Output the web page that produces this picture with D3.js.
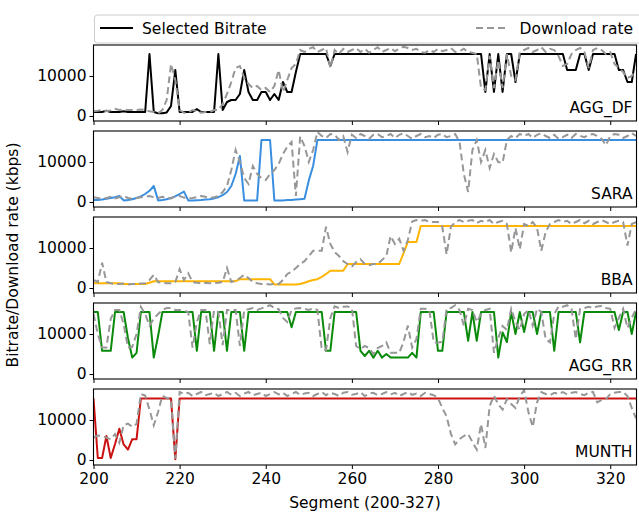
<!DOCTYPE html>
<html>
<head>
<meta charset="utf-8">
<script src="https://cdn.jsdelivr.net/npm/d3@7"></script>
<style>
  body { margin: 0; background: #fff; }
  text { font-family: 'DejaVu Sans', sans-serif; fill: #000; }
</style>
</head>
<body>
<svg id="chart"></svg>
<script>
// segment numbers start here, one value per segment (200..326)
const firstSegment = 200;
const xTicks = [200, 220, 240, 260, 280, 300, 320];
const yTicks = [0, 10000];
const panelNames = ["AGG_DF", "SARA", "BBA", "AGG_RR", "MUNTH"];
const panelColors = ["#000000", "#3a8ee0", "#ffb400", "#0a8a0a", "#cc1111"];

// selected bitrate (kbps)
const bitAggDf = [
  1000,1000,1000,1300,1000,1000,1000,1200,1000,1000,
  1000,1000,1000,15500,1000,700,700,900,2500,11500,
  1000,1000,1000,1000,1700,1000,1000,1000,1000,15500,
  1500,3500,4000,4000,5500,11500,6000,4000,4000,6000,
  6000,4000,5500,4000,8500,6000,6000,11000,15500,15500,
  15500,15500,15500,15500,15500,12500,15500,15500,15500,15500,
  15500,15500,15500,15500,15500,15500,15500,15500,15500,15500,
  15500,15500,15500,15500,15500,15500,15500,15500,15500,15500,
  15500,15500,15500,15500,15500,15500,15500,15500,15500,15500,
  15500,6000,15500,6000,15500,6000,15500,15500,8500,15500,
  15500,15500,15500,15500,15500,15500,15500,15500,15500,15500,
  11500,11500,11500,15500,15500,11500,15500,15500,15500,15500,
  15500,15500,11500,11500,8500,8500,15500
];
const bitSara = [
  500,500,600,800,1000,1200,1500,400,500,700,
  1000,1400,2000,2800,4000,400,500,700,1000,1400,
  2000,2600,400,400,450,500,600,700,900,1200,
  1700,2500,4000,7000,11500,400,400,400,400,15500,
  15500,15500,400,400,400,500,500,600,700,800,
  5400,9000,15500,15500,15500,15500,15500,15500,15500,15500,
  15500,15500,15500,15500,15500,15500,15500,15500,15500,15500,
  15500,15500,15500,15500,15500,15500,15500,15500,15500,15500,
  15500,15500,15500,15500,15500,15500,15500,15500,15500,15500,
  15500,15500,15500,15500,15500,15500,15500,15500,15500,15500,
  15500,15500,15500,15500,15500,15500,15500,15500,15500,15500,
  15500,15500,15500,15500,15500,15500,15500,15500,15500,15500,
  15500,15500,15500,15500,15500,15500,15500
];
const bitBba = [
  1200,1200,1200,1200,1200,1200,1200,1000,1000,1000,
  1000,1000,1000,1300,1700,1700,1700,1700,1700,1700,
  1700,1700,1700,1700,1700,1700,1700,1700,1700,1700,
  1700,1700,1700,1700,2200,2200,2200,2200,2200,2200,
  2200,2200,900,900,900,900,900,900,1000,1300,
  1700,2000,2200,2800,3500,4300,4300,4300,4300,6000,
  6000,6000,6000,6000,6000,6000,6000,6000,6000,6000,
  6000,6000,8700,11500,11500,11500,15500,15500,15500,15500,
  15500,15500,15500,15500,15500,15500,15500,15500,15500,15500,
  15500,15500,15500,15500,15500,15500,15500,15500,15500,15500,
  15500,15500,15500,15500,15500,15500,15500,15500,15500,15500,
  15500,15500,15500,15500,15500,15500,15500,15500,15500,15500,
  15500,15500,15500,15500,15500,15500,15500
];
const bitAggRr = [
  15500,15500,5800,5800,5800,15500,15500,15500,9000,4100,
  5300,15500,15500,15500,4100,9500,15500,15500,15500,15500,
  15500,15500,15500,15500,5800,15500,15500,15500,5800,15500,
  15500,5800,15500,15500,15500,5800,15500,15500,15500,15500,
  15500,15500,15500,15500,15500,15500,11700,15500,15500,15500,
  15500,15500,15500,15500,5800,5800,15500,15500,15500,15500,
  15500,15500,5800,4500,5800,4100,5800,4100,5000,4100,
  4100,4100,4100,4100,5300,4100,15500,15500,15500,15500,
  5800,5800,15500,15500,15500,15500,15500,8300,15500,8300,
  15500,15500,15500,15500,4100,10400,8000,15500,10000,15500,
  10500,15500,15500,10000,15500,15500,15500,5800,15500,15500,
  15500,15500,15500,7900,15500,15500,15500,15500,15500,15500,
  15500,15500,11000,15500,15500,10000,15500
];
const bitMunth = [
  15400,500,500,6000,500,4000,7800,3900,2600,5200,
  5200,15400,15400,15400,15400,15400,15400,15400,15400,200,
  15400,15400,15400,15400,15400,15400,15400,15400,15400,15400,
  15400,15400,15400,15400,15400,15400,15400,15400,15400,15400,
  15400,15400,15400,15400,15400,15400,15400,15400,15400,15400,
  15400,15400,15400,15400,15400,15400,15400,15400,15400,15400,
  15400,15400,15400,15400,15400,15400,15400,15400,15400,15400,
  15400,15400,15400,15400,15400,15400,15400,15400,15400,15400,
  15400,15400,15400,15400,15400,15400,15400,15400,15400,15400,
  15400,15400,15400,15400,15400,15400,15400,15400,15400,15400,
  15400,15400,15400,15400,15400,15400,15400,15400,15400,15400,
  15400,15400,15400,15400,15400,15400,15400,15400,15400,15400,
  15400,15400,15400,15400,15400,15400,15400
];

// download rate (kbps)
const dlAggDf = [
  1200,1300,1500,1200,1400,1800,1500,1600,1500,1500,
  1500,1600,1500,1200,1000,700,1500,4000,13000,9000,
  1500,800,900,1500,1200,800,1000,1000,1500,1500,
  3000,5500,8500,12000,12500,9500,8000,7000,7500,6500,
  7000,6000,7500,11500,6000,9000,12000,13000,16500,16000,
  16800,17200,16000,16500,17000,12000,16500,15500,16800,16000,
  16500,17000,16000,16800,15800,16500,17200,16000,16500,17000,
  16200,16800,17300,17000,16500,16800,16000,15800,16500,16000,
  16800,16200,16500,17000,16000,16200,16800,16000,15800,15500,
  7000,6500,15000,7000,14000,7000,15500,10000,9000,16000,
  16500,17000,16000,16500,17200,16000,16800,16500,15000,12500,
  13000,15500,16500,17000,16000,12000,16500,17000,16500,15500,
  16000,13000,12000,11000,9500,10000,11500
];
const dlSara = [
  1200,1000,800,1000,1300,900,1200,1500,1000,800,
  1000,1200,1300,1500,1200,1000,1300,1100,900,1400,
  1500,1100,900,1000,1200,1500,1300,1000,1200,1500,
  2500,4000,8000,13000,10000,6000,4500,9000,7000,6000,
  5500,7000,8000,9500,12000,13800,15000,1500,16400,14000,
  10000,13000,17500,16500,16000,17000,16800,15500,16500,12500,
  16800,16000,17000,16500,15800,16800,17000,16200,16500,17000,
  16000,16800,17200,16500,15800,16500,17000,16200,16500,16000,
  16800,17000,16200,16500,17000,15000,7000,2500,13000,15500,
  10000,13000,8500,12000,10000,9800,15500,16500,16000,17000,
  16500,17000,16000,16800,17200,16500,16000,16800,15800,16200,
  16800,16000,17000,16500,16200,16800,17000,16500,15800,14200,
  16500,17000,16800,16000,16500,17200,16500
];
const dlBba = [
  2000,1500,6300,1500,1200,1000,1000,1100,900,1000,
  1000,1100,1200,2000,3300,1500,1300,1200,1200,1500,
  4700,2000,3700,1500,1300,1200,1300,1200,1200,1300,
  1500,5000,1500,1800,2500,3300,2500,1500,1200,1000,
  1000,900,1000,1000,2000,3500,4100,5000,6000,6700,
  8000,9300,9300,9300,15300,11000,9000,8000,6700,6000,
  5400,6500,7200,6000,5700,6000,6000,7000,8000,13000,
  11000,12300,9300,12000,16600,17000,16800,17000,16500,16500,
  16500,15300,8400,15300,16500,17000,16500,16800,17000,16200,
  16800,16500,17000,16000,16500,16800,16000,8900,15000,9700,
  16000,15500,16500,15000,9300,14000,16000,16500,17000,16500,
  16800,16000,16500,17000,16200,16800,16000,16500,17000,16500,
  16000,16500,16800,16500,10600,16000,16500
];
const dlAggRr = [
  15000,10000,6600,6600,13800,16000,16000,12500,6600,6800,
  10000,16800,15000,12100,13800,15000,16000,16500,16500,16000,
  16000,15800,15500,6600,13000,16000,16000,7500,16000,15500,
  7200,16000,16000,16000,7000,16000,16200,16500,16000,16400,
  16800,17200,16500,16200,14000,13000,16000,16400,16500,16300,
  16000,16400,16000,6200,6000,14000,16900,16500,16800,16900,
  16500,7000,6200,7000,6500,5000,6500,7000,7900,5300,
  5300,5300,8000,12100,6600,8700,16300,16300,16000,7900,
  7900,8000,16300,16500,17200,16000,12100,16300,16000,13000,
  15000,16000,16300,5300,9000,12000,11000,16300,13000,11000,
  15000,16000,12100,16300,15500,8700,7900,15000,16900,16800,
  17200,16300,8700,16300,16500,16800,16500,16900,17000,16500,
  16300,11500,14000,16300,11500,14000,16300
];
const dlMunth = [
  5600,6100,6000,5600,5200,6500,4300,8700,9100,8300,
  9000,16500,16100,12600,8700,12000,16100,15500,15200,300,
  17000,16500,16800,16000,16500,17000,16200,16500,16800,16000,
  16500,17000,16300,16800,16000,16600,17000,16200,16500,16800,
  16000,16500,17000,16400,16800,16000,16500,17000,16300,16600,
  16800,16000,16500,17000,16200,16800,16500,16000,16800,17000,
  16300,16500,17000,16000,16600,16800,16200,16500,17000,16400,
  16800,16000,16500,17000,16300,16600,16000,16800,16500,16200,
  15500,13000,10900,6500,3900,5200,6000,6500,4500,2600,
  9000,3000,13500,16100,13900,12600,15200,14000,13000,16000,
  17400,12000,8300,14400,17000,16500,16200,16800,16500,17000,
  16400,16800,17000,16500,16200,16800,17000,14400,15000,15200,
  16500,16800,17000,17000,16000,13000,10400
];

const bitrates = [bitAggDf, bitSara, bitBba, bitAggRr, bitMunth];
const downloads = [dlAggDf, dlSara, dlBba, dlAggRr, dlMunth];

var width = 639;
var height = 512;
var plotLeft = 93.5;
var plotRight = 636.5;
var firstTop = 45;
var panelH = 76;
var panelGap = 10;
var fontSize = "15.5px";

var svg = d3.select("#chart").attr("width", width).attr("height", height);

var x = d3.scaleLinear().domain([200, 326.1]).range([plotLeft, plotRight]);
var y = d3.scaleLinear().domain([-1250, 17750]).range([panelH, 0]);

var line = d3.line()
  .x((d, i) => x(firstSegment + i))
  .y(d => y(d));

panelNames.forEach((name, p) => {
  var top = firstTop + p * (panelH + panelGap);
  var g = svg.append("g").attr("transform", `translate(0,${top})`);

  g.append("defs").append("clipPath").attr("id", "clip" + p)
    .append("rect").attr("x", plotLeft).attr("y", 0)
    .attr("width", plotRight - plotLeft).attr("height", panelH);

  var lines = g.append("g").attr("clip-path", `url(#clip${p})`);
  lines.append("path")
    .attr("d", line(bitrates[p]))
    .attr("fill", "none")
    .attr("stroke", panelColors[p])
    .attr("stroke-width", 2)
    .attr("stroke-linejoin", "round");
  lines.append("path")
    .attr("d", line(downloads[p]))
    .attr("fill", "none")
    .attr("stroke", "#979797")
    .attr("stroke-width", 2)
    .attr("stroke-dasharray", "7,4");

  // frame
  g.append("rect")
    .attr("x", plotLeft).attr("y", 0)
    .attr("width", plotRight - plotLeft).attr("height", panelH)
    .attr("fill", "none").attr("stroke", "#000").attr("stroke-width", 1.1);

  var yAxis = g.append("g")
    .attr("transform", `translate(${plotLeft},0)`)
    .call(d3.axisLeft(y).tickValues(yTicks).tickFormat(d3.format("d")).tickSize(4).tickSizeOuter(0).tickPadding(3));
  yAxis.select(".domain").remove();
  yAxis.selectAll("text").style("font-size", fontSize).style("font-family", "'DejaVu Sans', sans-serif");

  var xAxis = g.append("g")
    .attr("transform", `translate(0,${panelH})`)
    .call(d3.axisBottom(x).tickValues(xTicks).tickSize(4).tickSizeOuter(0).tickPadding(4));
  xAxis.select(".domain").remove();
  if (p < panelNames.length - 1) {
    xAxis.selectAll("text").remove();
  } else {
    xAxis.selectAll("text").style("font-size", fontSize).style("font-family", "'DejaVu Sans', sans-serif");
  }

  g.append("text")
    .attr("x", plotRight - 4)
    .attr("y", panelH - 8)
    .attr("text-anchor", "end")
    .style("font-size", fontSize)
    .text(name);
});

// legend
var legend = svg.append("g");
legend.append("rect")
  .attr("x", plotLeft + 1).attr("y", 15)
  .attr("width", plotRight - plotLeft + 4).attr("height", 28)
  .attr("rx", 3)
  .attr("fill", "#fff").attr("stroke", "#cccccc");
legend.append("line")
  .attr("x1", 100).attr("x2", 133).attr("y1", 28).attr("y2", 28)
  .attr("stroke", "#000").attr("stroke-width", 2);
legend.append("text")
  .attr("x", 142).attr("y", 34)
  .style("font-size", fontSize)
  .text("Selected Bitrate");
legend.append("line")
  .attr("x1", 476).attr("x2", 508).attr("y1", 28).attr("y2", 28)
  .attr("stroke", "#979797").attr("stroke-width", 2)
  .attr("stroke-dasharray", "7,4");
legend.append("text")
  .attr("x", 633).attr("y", 34)
  .attr("text-anchor", "end")
  .style("font-size", fontSize)
  .text("Download rate");

// axis titles
svg.append("text")
  .attr("transform", "translate(18,255) rotate(-90)")
  .attr("text-anchor", "middle")
  .style("font-size", fontSize)
  .text("Bitrate/Download rate (kbps)");

svg.append("text")
  .attr("x", (plotLeft + plotRight) / 2)
  .attr("y", 508)
  .attr("text-anchor", "middle")
  .style("font-size", fontSize)
  .text("Segment (200-327)");
</script>
</body>
</html>
